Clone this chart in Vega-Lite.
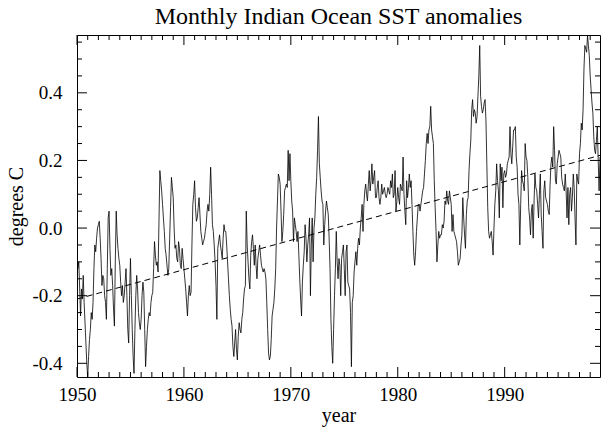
{
  "$schema": "https://vega.github.io/schema/vega-lite/v6.json",
  "width": 523,
  "height": 342,
  "autosize": {"type": "none"},
  "padding": {"left": 77, "top": 35, "right": 3, "bottom": 51},
  "background": "white",
  "config": {
    "view": {"stroke": "black", "strokeWidth": 1},
    "font": "Liberation Serif",
    "axis": {"domain": false, "grid": false, "ticks": false, "tickSize": 0, "labelFont": "Liberation Serif", "titleFont": "Liberation Serif", "labelColor": "black", "titleColor": "black", "labelFontSize": 19, "titleFontSize": 20, "titleFontWeight": "normal", "labelOverlap": false, "labelFlush": false}
  },
  "title": {"text": "Monthly Indian Ocean SST anomalies", "font": "Liberation Serif", "fontSize": 24, "fontWeight": "normal", "color": "black", "anchor": "middle", "offset": 6},
  "datasets": {
    "sst": [
{"t":1950.000,"v":-0.06},{"t":1950.083,"v":-0.12},{"t":1950.167,"v":-0.10},{"t":1950.250,"v":-0.18},{"t":1950.333,"v":-0.26},{"t":1950.417,"v":-0.18},{"t":1950.500,"v":-0.21},{"t":1950.583,"v":-0.14},{"t":1950.667,"v":-0.22},{"t":1950.750,"v":-0.28},{"t":1950.833,"v":-0.34},{"t":1950.917,"v":-0.40},
{"t":1951.000,"v":-0.44},{"t":1951.083,"v":-0.38},{"t":1951.167,"v":-0.33},{"t":1951.250,"v":-0.30},{"t":1951.333,"v":-0.25},{"t":1951.417,"v":-0.27},{"t":1951.500,"v":-0.22},{"t":1951.583,"v":-0.12},{"t":1951.667,"v":-0.05},{"t":1951.750,"v":-0.07},{"t":1951.833,"v":-0.03},{"t":1951.917,"v":0.00},
{"t":1952.000,"v":0.01},{"t":1952.083,"v":0.02},{"t":1952.167,"v":-0.03},{"t":1952.250,"v":-0.09},{"t":1952.333,"v":-0.17},{"t":1952.417,"v":-0.14},{"t":1952.500,"v":-0.15},{"t":1952.583,"v":-0.20},{"t":1952.667,"v":-0.22},{"t":1952.750,"v":-0.27},{"t":1952.833,"v":-0.12},{"t":1952.917,"v":0.03},
{"t":1953.000,"v":0.05},{"t":1953.083,"v":-0.06},{"t":1953.167,"v":-0.14},{"t":1953.250,"v":-0.12},{"t":1953.333,"v":-0.17},{"t":1953.417,"v":-0.24},{"t":1953.500,"v":-0.29},{"t":1953.583,"v":-0.10},{"t":1953.667,"v":0.05},{"t":1953.750,"v":-0.02},{"t":1953.833,"v":-0.06},{"t":1953.917,"v":-0.09},
{"t":1954.000,"v":-0.11},{"t":1954.083,"v":-0.16},{"t":1954.167,"v":-0.20},{"t":1954.250,"v":-0.17},{"t":1954.333,"v":-0.22},{"t":1954.417,"v":-0.20},{"t":1954.500,"v":-0.16},{"t":1954.583,"v":-0.12},{"t":1954.667,"v":-0.20},{"t":1954.750,"v":-0.30},{"t":1954.833,"v":-0.34},{"t":1954.917,"v":-0.20},
{"t":1955.000,"v":-0.09},{"t":1955.083,"v":-0.20},{"t":1955.167,"v":-0.30},{"t":1955.250,"v":-0.38},{"t":1955.333,"v":-0.43},{"t":1955.417,"v":-0.30},{"t":1955.500,"v":-0.20},{"t":1955.583,"v":-0.14},{"t":1955.667,"v":-0.18},{"t":1955.750,"v":-0.25},{"t":1955.833,"v":-0.28},{"t":1955.917,"v":-0.30},
{"t":1956.000,"v":-0.27},{"t":1956.083,"v":-0.20},{"t":1956.167,"v":-0.16},{"t":1956.250,"v":-0.19},{"t":1956.333,"v":-0.30},{"t":1956.417,"v":-0.41},{"t":1956.500,"v":-0.35},{"t":1956.583,"v":-0.30},{"t":1956.667,"v":-0.27},{"t":1956.750,"v":-0.25},{"t":1956.833,"v":-0.26},{"t":1956.917,"v":-0.22},
{"t":1957.000,"v":-0.20},{"t":1957.083,"v":-0.19},{"t":1957.167,"v":-0.12},{"t":1957.250,"v":-0.04},{"t":1957.333,"v":-0.08},{"t":1957.417,"v":-0.11},{"t":1957.500,"v":-0.10},{"t":1957.583,"v":-0.13},{"t":1957.667,"v":0.02},{"t":1957.750,"v":0.17},{"t":1957.833,"v":0.14},{"t":1957.917,"v":0.11},
{"t":1958.000,"v":0.07},{"t":1958.083,"v":0.03},{"t":1958.167,"v":-0.01},{"t":1958.250,"v":-0.06},{"t":1958.333,"v":-0.08},{"t":1958.417,"v":-0.11},{"t":1958.500,"v":-0.14},{"t":1958.583,"v":-0.12},{"t":1958.667,"v":-0.03},{"t":1958.750,"v":0.06},{"t":1958.833,"v":0.15},{"t":1958.917,"v":0.12},
{"t":1959.000,"v":0.09},{"t":1959.083,"v":0.00},{"t":1959.167,"v":-0.06},{"t":1959.250,"v":-0.05},{"t":1959.333,"v":-0.09},{"t":1959.417,"v":-0.10},{"t":1959.500,"v":-0.04},{"t":1959.583,"v":-0.06},{"t":1959.667,"v":-0.11},{"t":1959.750,"v":-0.12},{"t":1959.833,"v":-0.06},{"t":1959.917,"v":-0.09},
{"t":1960.000,"v":-0.12},{"t":1960.083,"v":-0.15},{"t":1960.167,"v":-0.18},{"t":1960.250,"v":-0.22},{"t":1960.333,"v":-0.26},{"t":1960.417,"v":-0.20},{"t":1960.500,"v":-0.17},{"t":1960.583,"v":-0.20},{"t":1960.667,"v":-0.19},{"t":1960.750,"v":-0.05},{"t":1960.833,"v":0.07},{"t":1960.917,"v":0.10},
{"t":1961.000,"v":0.14},{"t":1961.083,"v":0.06},{"t":1961.167,"v":0.02},{"t":1961.250,"v":0.03},{"t":1961.333,"v":0.06},{"t":1961.417,"v":0.09},{"t":1961.500,"v":0.04},{"t":1961.583,"v":-0.01},{"t":1961.667,"v":-0.03},{"t":1961.750,"v":-0.05},{"t":1961.833,"v":-0.04},{"t":1961.917,"v":-0.03},
{"t":1962.000,"v":-0.01},{"t":1962.083,"v":0.01},{"t":1962.167,"v":0.05},{"t":1962.250,"v":0.07},{"t":1962.333,"v":0.05},{"t":1962.417,"v":0.10},{"t":1962.500,"v":0.18},{"t":1962.583,"v":0.10},{"t":1962.667,"v":0.01},{"t":1962.750,"v":-0.01},{"t":1962.833,"v":-0.05},{"t":1962.917,"v":-0.10},
{"t":1963.000,"v":-0.17},{"t":1963.083,"v":-0.27},{"t":1963.167,"v":-0.06},{"t":1963.250,"v":-0.04},{"t":1963.333,"v":-0.02},{"t":1963.417,"v":-0.05},{"t":1963.500,"v":-0.07},{"t":1963.583,"v":-0.09},{"t":1963.667,"v":-0.03},{"t":1963.750,"v":0.01},{"t":1963.833,"v":-0.01},{"t":1963.917,"v":-0.01},
{"t":1964.000,"v":-0.05},{"t":1964.083,"v":-0.10},{"t":1964.167,"v":-0.15},{"t":1964.250,"v":-0.20},{"t":1964.333,"v":-0.24},{"t":1964.417,"v":-0.27},{"t":1964.500,"v":-0.29},{"t":1964.583,"v":-0.35},{"t":1964.667,"v":-0.38},{"t":1964.750,"v":-0.34},{"t":1964.833,"v":-0.30},{"t":1964.917,"v":-0.36},
{"t":1965.000,"v":-0.39},{"t":1965.083,"v":-0.32},{"t":1965.167,"v":-0.28},{"t":1965.250,"v":-0.30},{"t":1965.333,"v":-0.31},{"t":1965.417,"v":-0.27},{"t":1965.500,"v":-0.25},{"t":1965.583,"v":-0.21},{"t":1965.667,"v":-0.18},{"t":1965.750,"v":-0.17},{"t":1965.833,"v":0.05},{"t":1965.917,"v":-0.05},
{"t":1966.000,"v":-0.10},{"t":1966.083,"v":-0.15},{"t":1966.167,"v":-0.18},{"t":1966.250,"v":-0.08},{"t":1966.333,"v":-0.04},{"t":1966.417,"v":-0.02},{"t":1966.500,"v":-0.06},{"t":1966.583,"v":-0.11},{"t":1966.667,"v":-0.05},{"t":1966.750,"v":-0.11},{"t":1966.833,"v":-0.15},{"t":1966.917,"v":-0.09},
{"t":1967.000,"v":-0.07},{"t":1967.083,"v":-0.05},{"t":1967.167,"v":-0.08},{"t":1967.250,"v":-0.11},{"t":1967.333,"v":-0.12},{"t":1967.417,"v":-0.13},{"t":1967.500,"v":-0.12},{"t":1967.583,"v":-0.13},{"t":1967.667,"v":-0.15},{"t":1967.750,"v":-0.22},{"t":1967.833,"v":-0.30},{"t":1967.917,"v":-0.37},
{"t":1968.000,"v":-0.39},{"t":1968.083,"v":-0.38},{"t":1968.167,"v":-0.33},{"t":1968.250,"v":-0.26},{"t":1968.333,"v":-0.24},{"t":1968.417,"v":-0.22},{"t":1968.500,"v":-0.18},{"t":1968.583,"v":-0.12},{"t":1968.667,"v":0.00},{"t":1968.750,"v":0.08},{"t":1968.833,"v":0.16},{"t":1968.917,"v":0.15},
{"t":1969.000,"v":0.13},{"t":1969.083,"v":0.05},{"t":1969.167,"v":-0.04},{"t":1969.250,"v":-0.01},{"t":1969.333,"v":0.04},{"t":1969.417,"v":0.11},{"t":1969.500,"v":0.12},{"t":1969.583,"v":0.13},{"t":1969.667,"v":0.12},{"t":1969.750,"v":0.23},{"t":1969.833,"v":0.14},{"t":1969.917,"v":0.22},
{"t":1970.000,"v":0.14},{"t":1970.083,"v":0.08},{"t":1970.167,"v":0.05},{"t":1970.250,"v":-0.04},{"t":1970.333,"v":0.03},{"t":1970.417,"v":0.01},{"t":1970.500,"v":-0.01},{"t":1970.583,"v":-0.04},{"t":1970.667,"v":-0.01},{"t":1970.750,"v":-0.08},{"t":1970.833,"v":-0.15},{"t":1970.917,"v":-0.21},
{"t":1971.000,"v":-0.26},{"t":1971.083,"v":-0.16},{"t":1971.167,"v":-0.11},{"t":1971.250,"v":-0.07},{"t":1971.333,"v":0.01},{"t":1971.417,"v":-0.03},{"t":1971.500,"v":-0.10},{"t":1971.583,"v":-0.05},{"t":1971.667,"v":-0.02},{"t":1971.750,"v":0.03},{"t":1971.833,"v":-0.20},{"t":1971.917,"v":-0.05},
{"t":1972.000,"v":0.03},{"t":1972.083,"v":-0.10},{"t":1972.167,"v":0.00},{"t":1972.250,"v":0.03},{"t":1972.333,"v":0.10},{"t":1972.417,"v":0.15},{"t":1972.500,"v":0.23},{"t":1972.583,"v":0.33},{"t":1972.667,"v":0.19},{"t":1972.750,"v":0.15},{"t":1972.833,"v":0.11},{"t":1972.917,"v":0.08},
{"t":1973.000,"v":0.07},{"t":1973.083,"v":-0.05},{"t":1973.167,"v":0.01},{"t":1973.250,"v":0.05},{"t":1973.333,"v":0.08},{"t":1973.417,"v":0.06},{"t":1973.500,"v":0.04},{"t":1973.583,"v":-0.03},{"t":1973.667,"v":-0.12},{"t":1973.750,"v":-0.27},{"t":1973.833,"v":-0.35},{"t":1973.917,"v":-0.40},
{"t":1974.000,"v":-0.30},{"t":1974.083,"v":-0.20},{"t":1974.167,"v":-0.12},{"t":1974.250,"v":-0.01},{"t":1974.333,"v":-0.10},{"t":1974.417,"v":-0.15},{"t":1974.500,"v":-0.09},{"t":1974.583,"v":-0.11},{"t":1974.667,"v":-0.20},{"t":1974.750,"v":-0.09},{"t":1974.833,"v":-0.07},{"t":1974.917,"v":-0.05},
{"t":1975.000,"v":-0.12},{"t":1975.083,"v":-0.20},{"t":1975.167,"v":-0.07},{"t":1975.250,"v":-0.05},{"t":1975.333,"v":-0.16},{"t":1975.417,"v":-0.17},{"t":1975.500,"v":-0.18},{"t":1975.583,"v":-0.25},{"t":1975.667,"v":-0.41},{"t":1975.750,"v":-0.22},{"t":1975.833,"v":-0.20},{"t":1975.917,"v":-0.13},
{"t":1976.000,"v":-0.10},{"t":1976.083,"v":-0.07},{"t":1976.167,"v":-0.11},{"t":1976.250,"v":-0.06},{"t":1976.333,"v":-0.03},{"t":1976.417,"v":-0.05},{"t":1976.500,"v":0.00},{"t":1976.583,"v":0.03},{"t":1976.667,"v":0.07},{"t":1976.750,"v":-0.01},{"t":1976.833,"v":0.07},{"t":1976.917,"v":0.11},
{"t":1977.000,"v":0.13},{"t":1977.083,"v":0.10},{"t":1977.167,"v":0.08},{"t":1977.250,"v":0.13},{"t":1977.333,"v":0.17},{"t":1977.417,"v":0.11},{"t":1977.500,"v":0.14},{"t":1977.583,"v":0.19},{"t":1977.667,"v":0.13},{"t":1977.750,"v":0.15},{"t":1977.833,"v":0.17},{"t":1977.917,"v":0.09},
{"t":1978.000,"v":0.09},{"t":1978.083,"v":0.12},{"t":1978.167,"v":0.14},{"t":1978.250,"v":0.09},{"t":1978.333,"v":0.07},{"t":1978.417,"v":0.09},{"t":1978.500,"v":0.13},{"t":1978.583,"v":0.10},{"t":1978.667,"v":0.11},{"t":1978.750,"v":0.12},{"t":1978.833,"v":0.10},{"t":1978.917,"v":0.09},
{"t":1979.000,"v":0.10},{"t":1979.083,"v":0.12},{"t":1979.167,"v":0.11},{"t":1979.250,"v":0.10},{"t":1979.333,"v":0.14},{"t":1979.417,"v":0.12},{"t":1979.500,"v":0.16},{"t":1979.583,"v":0.09},{"t":1979.667,"v":0.10},{"t":1979.750,"v":0.17},{"t":1979.833,"v":0.05},{"t":1979.917,"v":0.08},
{"t":1980.000,"v":0.12},{"t":1980.083,"v":0.09},{"t":1980.167,"v":0.07},{"t":1980.250,"v":0.13},{"t":1980.333,"v":0.12},{"t":1980.417,"v":0.11},{"t":1980.500,"v":0.21},{"t":1980.583,"v":0.10},{"t":1980.667,"v":0.05},{"t":1980.750,"v":0.01},{"t":1980.833,"v":0.14},{"t":1980.917,"v":0.09},
{"t":1981.000,"v":0.12},{"t":1981.083,"v":0.16},{"t":1981.167,"v":0.12},{"t":1981.250,"v":0.14},{"t":1981.333,"v":0.07},{"t":1981.417,"v":-0.01},{"t":1981.500,"v":-0.08},{"t":1981.583,"v":-0.11},{"t":1981.667,"v":-0.07},{"t":1981.750,"v":-0.01},{"t":1981.833,"v":0.03},{"t":1981.917,"v":0.07},
{"t":1982.000,"v":0.07},{"t":1982.083,"v":0.05},{"t":1982.167,"v":0.07},{"t":1982.250,"v":0.09},{"t":1982.333,"v":0.11},{"t":1982.417,"v":0.12},{"t":1982.500,"v":0.16},{"t":1982.583,"v":0.20},{"t":1982.667,"v":0.25},{"t":1982.750,"v":0.28},{"t":1982.833,"v":0.25},{"t":1982.917,"v":0.29},
{"t":1983.000,"v":0.30},{"t":1983.083,"v":0.36},{"t":1983.167,"v":0.29},{"t":1983.250,"v":0.27},{"t":1983.333,"v":0.25},{"t":1983.417,"v":0.14},{"t":1983.500,"v":0.06},{"t":1983.583,"v":-0.01},{"t":1983.667,"v":-0.10},{"t":1983.750,"v":-0.05},{"t":1983.833,"v":-0.01},{"t":1983.917,"v":-0.03},
{"t":1984.000,"v":-0.02},{"t":1984.083,"v":-0.02},{"t":1984.167,"v":0.01},{"t":1984.250,"v":0.00},{"t":1984.333,"v":0.02},{"t":1984.417,"v":0.08},{"t":1984.500,"v":0.07},{"t":1984.583,"v":0.11},{"t":1984.667,"v":0.08},{"t":1984.750,"v":0.07},{"t":1984.833,"v":0.11},{"t":1984.917,"v":0.09},
{"t":1985.000,"v":0.07},{"t":1985.083,"v":-0.01},{"t":1985.167,"v":0.04},{"t":1985.250,"v":-0.01},{"t":1985.333,"v":-0.02},{"t":1985.417,"v":-0.03},{"t":1985.500,"v":-0.04},{"t":1985.583,"v":-0.07},{"t":1985.667,"v":-0.11},{"t":1985.750,"v":-0.10},{"t":1985.833,"v":-0.09},{"t":1985.917,"v":-0.05},
{"t":1986.000,"v":-0.02},{"t":1986.083,"v":0.09},{"t":1986.167,"v":0.03},{"t":1986.250,"v":-0.02},{"t":1986.333,"v":-0.06},{"t":1986.417,"v":0.04},{"t":1986.500,"v":0.08},{"t":1986.583,"v":0.09},{"t":1986.667,"v":0.17},{"t":1986.750,"v":0.22},{"t":1986.833,"v":0.26},{"t":1986.917,"v":0.35},
{"t":1987.000,"v":0.38},{"t":1987.083,"v":0.33},{"t":1987.167,"v":0.35},{"t":1987.250,"v":0.34},{"t":1987.333,"v":0.31},{"t":1987.417,"v":0.33},{"t":1987.500,"v":0.39},{"t":1987.583,"v":0.45},{"t":1987.667,"v":0.54},{"t":1987.750,"v":0.39},{"t":1987.833,"v":0.36},{"t":1987.917,"v":0.34},
{"t":1988.000,"v":0.35},{"t":1988.083,"v":0.37},{"t":1988.167,"v":0.38},{"t":1988.250,"v":0.32},{"t":1988.333,"v":0.19},{"t":1988.417,"v":0.06},{"t":1988.500,"v":-0.01},{"t":1988.583,"v":-0.03},{"t":1988.667,"v":-0.02},{"t":1988.750,"v":-0.01},{"t":1988.833,"v":-0.04},{"t":1988.917,"v":-0.08},
{"t":1989.000,"v":0.00},{"t":1989.083,"v":0.07},{"t":1989.167,"v":0.11},{"t":1989.250,"v":0.19},{"t":1989.333,"v":0.14},{"t":1989.417,"v":0.11},{"t":1989.500,"v":0.03},{"t":1989.583,"v":0.19},{"t":1989.667,"v":0.14},{"t":1989.750,"v":0.18},{"t":1989.833,"v":0.06},{"t":1989.917,"v":0.16},
{"t":1990.000,"v":0.17},{"t":1990.083,"v":0.15},{"t":1990.167,"v":0.16},{"t":1990.250,"v":0.19},{"t":1990.333,"v":0.20},{"t":1990.417,"v":0.21},{"t":1990.500,"v":0.30},{"t":1990.583,"v":0.22},{"t":1990.667,"v":0.19},{"t":1990.750,"v":0.24},{"t":1990.833,"v":0.29},{"t":1990.917,"v":0.29},
{"t":1991.000,"v":0.30},{"t":1991.083,"v":0.21},{"t":1991.167,"v":0.18},{"t":1991.250,"v":0.10},{"t":1991.333,"v":0.07},{"t":1991.417,"v":-0.05},{"t":1991.500,"v":0.07},{"t":1991.583,"v":0.17},{"t":1991.667,"v":0.14},{"t":1991.750,"v":0.13},{"t":1991.833,"v":0.11},{"t":1991.917,"v":0.25},
{"t":1992.000,"v":0.21},{"t":1992.083,"v":0.20},{"t":1992.167,"v":0.15},{"t":1992.250,"v":0.06},{"t":1992.333,"v":0.03},{"t":1992.417,"v":-0.02},{"t":1992.500,"v":0.05},{"t":1992.583,"v":0.07},{"t":1992.667,"v":-0.03},{"t":1992.750,"v":0.08},{"t":1992.833,"v":0.16},{"t":1992.917,"v":0.12},
{"t":1993.000,"v":0.11},{"t":1993.083,"v":0.07},{"t":1993.167,"v":0.03},{"t":1993.250,"v":0.10},{"t":1993.333,"v":0.16},{"t":1993.417,"v":0.04},{"t":1993.500,"v":-0.01},{"t":1993.583,"v":-0.06},{"t":1993.667,"v":0.11},{"t":1993.750,"v":0.14},{"t":1993.833,"v":0.09},{"t":1993.917,"v":0.08},
{"t":1994.000,"v":0.07},{"t":1994.083,"v":0.05},{"t":1994.167,"v":0.04},{"t":1994.250,"v":0.13},{"t":1994.333,"v":0.19},{"t":1994.417,"v":0.21},{"t":1994.500,"v":0.18},{"t":1994.583,"v":0.30},{"t":1994.667,"v":0.23},{"t":1994.750,"v":0.14},{"t":1994.833,"v":0.13},{"t":1994.917,"v":0.19},
{"t":1995.000,"v":0.21},{"t":1995.083,"v":0.23},{"t":1995.167,"v":0.22},{"t":1995.250,"v":0.21},{"t":1995.333,"v":0.15},{"t":1995.417,"v":0.13},{"t":1995.500,"v":0.12},{"t":1995.583,"v":0.11},{"t":1995.667,"v":0.16},{"t":1995.750,"v":0.11},{"t":1995.833,"v":0.03},{"t":1995.917,"v":0.12},
{"t":1996.000,"v":0.01},{"t":1996.083,"v":0.10},{"t":1996.167,"v":0.12},{"t":1996.250,"v":0.05},{"t":1996.333,"v":0.09},{"t":1996.417,"v":0.16},{"t":1996.500,"v":0.12},{"t":1996.583,"v":0.03},{"t":1996.667,"v":-0.05},{"t":1996.750,"v":0.16},{"t":1996.833,"v":0.14},{"t":1996.917,"v":0.13},
{"t":1997.000,"v":0.22},{"t":1997.083,"v":0.25},{"t":1997.167,"v":0.31},{"t":1997.250,"v":0.29},{"t":1997.333,"v":0.35},{"t":1997.417,"v":0.47},{"t":1997.500,"v":0.54},{"t":1997.583,"v":0.53},{"t":1997.667,"v":0.52},{"t":1997.750,"v":0.57},{"t":1997.833,"v":0.54},{"t":1997.917,"v":0.51},
{"t":1998.000,"v":0.45},{"t":1998.083,"v":0.41},{"t":1998.167,"v":0.37},{"t":1998.250,"v":0.34},{"t":1998.333,"v":0.27},{"t":1998.417,"v":0.23},{"t":1998.500,"v":0.22},{"t":1998.583,"v":0.26},{"t":1998.667,"v":0.30},{"t":1998.750,"v":0.20},{"t":1998.833,"v":0.11},{"t":1998.917,"v":0.21}
    ],
    "trend": [
      {"t": 1950.0, "v": -0.21},
      {"t": 1998.917, "v": 0.215}
    ],
    "xmajor": [{"t":1950},{"t":1960},{"t":1970},{"t":1980},{"t":1990}],
    "xminor": [{"t":1951},{"t":1952},{"t":1953},{"t":1954},{"t":1955},{"t":1956},{"t":1957},{"t":1958},{"t":1959},{"t":1961},{"t":1962},{"t":1963},{"t":1964},{"t":1965},{"t":1966},{"t":1967},{"t":1968},{"t":1969},{"t":1971},{"t":1972},{"t":1973},{"t":1974},{"t":1975},{"t":1976},{"t":1977},{"t":1978},{"t":1979},{"t":1981},{"t":1982},{"t":1983},{"t":1984},{"t":1985},{"t":1986},{"t":1987},{"t":1988},{"t":1989},{"t":1991},{"t":1992},{"t":1993},{"t":1994},{"t":1995},{"t":1996},{"t":1997},{"t":1998}],
    "ymajor": [{"v":-0.4},{"v":-0.2},{"v":0.0},{"v":0.2},{"v":0.4}],
    "yminor": [{"v":-0.35},{"v":-0.3},{"v":-0.25},{"v":-0.15},{"v":-0.1},{"v":-0.05},{"v":0.05},{"v":0.1},{"v":0.15},{"v":0.25},{"v":0.3},{"v":0.35},{"v":0.45},{"v":0.5},{"v":0.55}]
  },
  "layer": [
    {
      "data": {"name": "sst"},
      "mark": {"type": "line", "color": "black", "strokeWidth": 0.8, "clip": true},
      "encoding": {
        "x": {
          "field": "t", "type": "quantitative",
          "scale": {"domain": [1950, 1998.917], "nice": false, "zero": false},
          "axis": {
            "orient": "bottom", "title": "year", "titleY": 44, "titleBaseline": "alphabetic",
            "values": [1950, 1960, 1970, 1980, 1990],
            "format": "d",
            "ticks": false, "tickSize": 0,
            "labelPadding": 8
          }
        },
        "y": {
          "field": "v", "type": "quantitative",
          "scale": {"domain": [-0.4405, 0.571], "nice": false, "zero": false},
          "axis": {
            "orient": "left", "title": "degrees C", "titleX": -51,
            "values": [-0.4, -0.2, 0, 0.2, 0.4],
            "labelExpr": "replace(format(datum.value, '.1f'), '\u2212', '-')",
            "ticks": false, "tickSize": 0,
            "labelPadding": 15
          }
        }
      }
    },
    {
      "data": {"name": "trend"},
      "mark": {"type": "line", "color": "black", "strokeWidth": 1, "strokeDash": [6, 4]},
      "encoding": {
        "x": {"field": "t", "type": "quantitative"},
        "y": {"field": "v", "type": "quantitative"}
      }
    },
    {
      "data": {"name": "xmajor"},
      "mark": {"type": "tick", "orient": "vertical", "size": 10, "thickness": 1, "color": "black", "opacity": 1, "yOffset": -5},
      "encoding": {"x": {"field": "t", "type": "quantitative"}, "y": {"datum": -0.4405, "type": "quantitative"}}
    },
    {
      "data": {"name": "xmajor"},
      "mark": {"type": "tick", "orient": "vertical", "size": 10, "thickness": 1, "color": "black", "opacity": 1, "yOffset": 5},
      "encoding": {"x": {"field": "t", "type": "quantitative"}, "y": {"datum": 0.571, "type": "quantitative"}}
    },
    {
      "data": {"name": "xminor"},
      "mark": {"type": "tick", "orient": "vertical", "size": 5, "thickness": 1, "color": "black", "opacity": 1, "yOffset": -2.5},
      "encoding": {"x": {"field": "t", "type": "quantitative"}, "y": {"datum": -0.4405, "type": "quantitative"}}
    },
    {
      "data": {"name": "xminor"},
      "mark": {"type": "tick", "orient": "vertical", "size": 5, "thickness": 1, "color": "black", "opacity": 1, "yOffset": 2.5},
      "encoding": {"x": {"field": "t", "type": "quantitative"}, "y": {"datum": 0.571, "type": "quantitative"}}
    },
    {
      "data": {"name": "ymajor"},
      "mark": {"type": "tick", "orient": "horizontal", "size": 10, "thickness": 1, "color": "black", "opacity": 1, "xOffset": 5},
      "encoding": {"y": {"field": "v", "type": "quantitative"}, "x": {"datum": 1950, "type": "quantitative"}}
    },
    {
      "data": {"name": "ymajor"},
      "mark": {"type": "tick", "orient": "horizontal", "size": 10, "thickness": 1, "color": "black", "opacity": 1, "xOffset": -5},
      "encoding": {"y": {"field": "v", "type": "quantitative"}, "x": {"datum": 1998.917, "type": "quantitative"}}
    },
    {
      "data": {"name": "yminor"},
      "mark": {"type": "tick", "orient": "horizontal", "size": 5, "thickness": 1, "color": "black", "opacity": 1, "xOffset": 2.5},
      "encoding": {"y": {"field": "v", "type": "quantitative"}, "x": {"datum": 1950, "type": "quantitative"}}
    },
    {
      "data": {"name": "yminor"},
      "mark": {"type": "tick", "orient": "horizontal", "size": 5, "thickness": 1, "color": "black", "opacity": 1, "xOffset": -2.5},
      "encoding": {"y": {"field": "v", "type": "quantitative"}, "x": {"datum": 1998.917, "type": "quantitative"}}
    }
  ]
}
